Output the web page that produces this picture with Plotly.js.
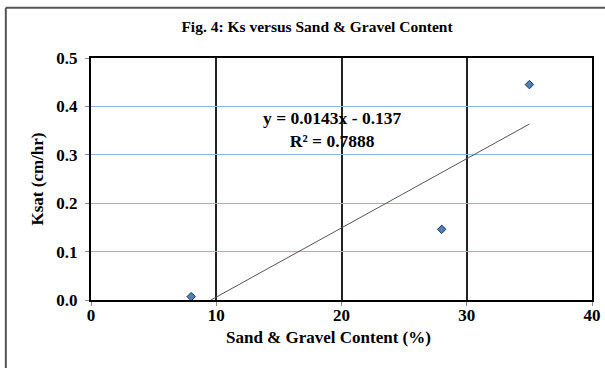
<!DOCTYPE html>
<html>
<head>
<meta charset="utf-8">
<script src="https://cdn.plot.ly/plotly-3.0.1.min.js"></script>
<style>html,body{margin:0;padding:0;background:#fff;}#chart{width:605px;height:368px;}</style>
</head>
<body>
<div id="chart"></div>
<script>
// Data
const sandGravel = [8, 28, 35];           // Sand & Gravel Content (%)
const ksat = [0.007, 0.146, 0.445];       // Ksat (cm/hr)
const trendSlope = 0.0143;
const trendIntercept = -0.137;
const trendR2 = 0.7888;
const xTicks = [0, 10, 20, 30, 40];
const yTicks = [0, 0.1, 0.2, 0.3, 0.4, 0.5];
const yTickLabels = ['0.0', '0.1', '0.2', '0.3', '0.4', '0.5'];
const xTitle = 'Sand & Gravel Content (%)';
const yTitle = 'Ksat (cm/hr)';
const chartTitle = 'Fig. 4: Ks versus Sand & Gravel Content';

const xMin = Math.min(...sandGravel), xMax = Math.max(...sandGravel);
const trendX = [xMin, xMax];
const trendY = trendX.map(x => trendSlope * x + trendIntercept);

const serif = 'Liberation Serif, Times New Roman, serif';

const traces = [
  {
    x: trendX, y: trendY, mode: 'lines', type: 'scatter',
    line: {color: '#555555', width: 1}, hoverinfo: 'skip', showlegend: false
  },
  {
    x: sandGravel, y: ksat, mode: 'markers', type: 'scatter',
    marker: {symbol: 'diamond', size: 6.5, color: '#4F81BD', line: {color: '#1F2F4F', width: 1}},
    showlegend: false, cliponaxis: false
  }
];

const layout = {
  width: 605, height: 368,
  margin: {l: 91, r: 13, t: 57.5, b: 68},
  paper_bgcolor: '#ffffff', plot_bgcolor: '#ffffff',
  font: {family: serif, color: '#000'},
  title: {
    text: chartTitle,
    font: {family: serif, size: 15.5, weight: 'bold', color: '#000'},
    x: 0.524, xanchor: 'center', y: 0.927, yanchor: 'middle', xref: 'container', yref: 'container'
  },
  xaxis: {
    range: [0, 40], tickvals: xTicks, ticktext: xTicks.map(String),
    showgrid: true, gridcolor: '#222222', gridwidth: 2,
    showline: true, mirror: true, linecolor: '#000000', linewidth: 2,
    zeroline: false, ticks: 'outside', ticklen: 4, tickcolor: '#888', tickwidth: 1,
    ticklabelstandoff: -5,
    tickfont: {family: serif, size: 17, weight: 'bold', color: '#000'},
    fixedrange: true
  },
  yaxis: {
    range: [0, 0.5], tickvals: yTicks, ticktext: yTickLabels,
    showgrid: true, gridcolor: '#8DB4E2', gridwidth: 1,
    showline: true, mirror: true, linecolor: '#000000', linewidth: 2,
    zeroline: false, ticks: 'outside', ticklen: 4, tickcolor: '#888', tickwidth: 1,
    ticklabelstandoff: 4,
    tickfont: {family: serif, size: 17, weight: 'bold', color: '#000'},
    title: {text: yTitle, font: {family: serif, size: 17, weight: 'bold', color: '#000'}, standoff: 8},
    fixedrange: true
  },
  annotations: [
    {
      text: 'y = ' + trendSlope + 'x - ' + Math.abs(trendIntercept) + '<br>R² = ' + trendR2,
      x: 0.483, y: 0.705, xref: 'paper', yref: 'paper', xanchor: 'center', yanchor: 'middle',
      showarrow: false, align: 'center',
      font: {family: serif, size: 17.5, weight: 'bold', color: '#000'}
    },
    {
      text: xTitle, x: 0.475, y: -0.157, xref: 'paper', yref: 'paper', xanchor: 'center', yanchor: 'middle',
      showarrow: false, font: {family: serif, size: 17, weight: 'bold', color: '#000'}
    }
  ],
  shapes: [
    {type: 'line', xref: 'paper', yref: 'paper', x0: -0.17, x1: -0.17, y0: -0.3, y1: 1.208, line: {color: '#555', width: 2}},
    {type: 'line', xref: 'paper', yref: 'paper', x0: -0.17, x1: 1.1, y0: 1.208, y1: 1.208, line: {color: '#555', width: 2}}
  ]
};

Plotly.newPlot('chart', traces, layout, {displayModeBar: false, staticPlot: true});
</script>
</body>
</html>
